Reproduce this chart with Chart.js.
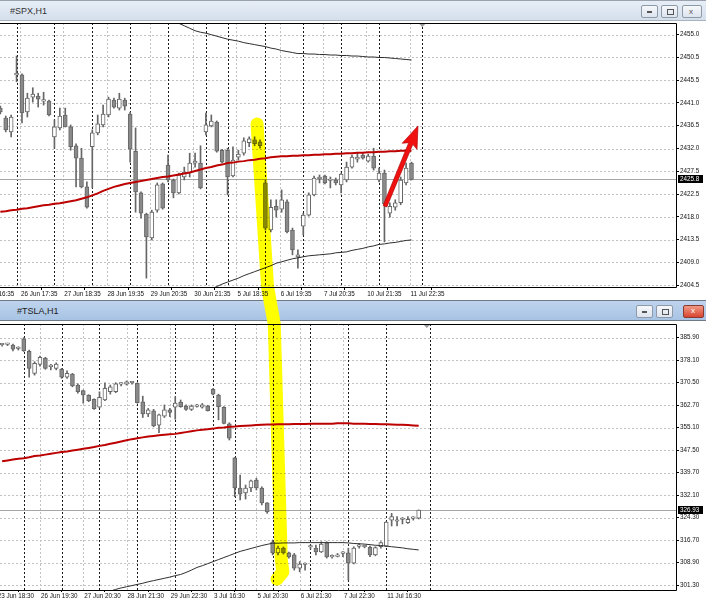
<!DOCTYPE html>
<html>
<head>
<meta charset="utf-8">
<title>#SPX,H1 / #TSLA,H1</title>
<script src="https://cdn.jsdelivr.net/npm/chart.js@4.4.1/dist/chart.umd.min.js"></script>
<style>
  html, body { margin: 0; padding: 0; }
  body { width: 706px; height: 600px; position: relative; overflow: hidden; background: #eef0f3; font-family: "Liberation Sans", Arial, sans-serif; }
  .win { position: absolute; left: 0; width: 706px; background: #fff; overflow: hidden; }
  #winSpx { top: 0; height: 300px; }
  #winTsla { top: 300px; height: 300px; }
  .bar { position: absolute; left: 0; top: 0; width: 706px; height: 21px; box-sizing: border-box; }
  #winSpx .bar { background: linear-gradient(#e7eef7, #d4dfec); border-top: 1px solid #9aa3ad; border-bottom: 1px solid #a9b3bf; }
  #winTsla .bar { background: linear-gradient(#bfd4ed, #a7c3e4); border-top: 1px solid #6f7a86; border-bottom: 1px solid #6f7a86; }
  .title { position: absolute; top: 5px; font-size: 9px; color: #222; }
  .btn { position: absolute; top: 4px; width: 17px; height: 13px; box-sizing: border-box; border: 1px solid #8e9aa8; border-radius: 2px; background: linear-gradient(#f6f8fb, #dde4ee); }
  .btn i { position: absolute; left: 5px; top: 5px; width: 5px; height: 2px; background: #555; }
  .btn.max i { top: 3px; height: 4px; width: 5px; background: none; border: 1px solid #555; }
  .btn.close { width: 21px; background: linear-gradient(#f09a86, #d9452f); border-color: #8a3a30; }
  .btn.close i { left: 7px; top: 2px; width: 6px; height: 6px; background: none; color: #fff; font-size: 8px; line-height: 6px; font-style: normal; }
  canvas { position: absolute; left: 0; }
  #cSpx { top: 21px; }
  #cTsla { top: 22px; }
  .overlay { position: absolute; left: 0; top: 0; pointer-events: none; }
  #overlayMul { mix-blend-mode: multiply; }
</style>
</head>
<body>
<div class="win" id="winSpx">
  <div class="bar">
    <span class="title" style="left:10px;color:#333">#SPX,H1</span>
    <span class="btn" style="left:641px"><i></i></span>
    <span class="btn max" style="left:661px"><i></i></span>
    <span class="btn" style="left:682px;width:20px"><i style="background:none;color:#555;font-size:8px;font-style:normal;left:6px;top:1px">x</i></span>
  </div>
  <canvas id="cSpx" width="706" height="279"></canvas>
</div>
<div class="win" id="winTsla">
  <div class="bar">
    <span class="title" style="left:17px">#TSLA,H1</span>
    <span class="btn" style="left:636px"><i></i></span>
    <span class="btn max" style="left:656px"><i></i></span>
    <span class="btn close" style="left:683px"><i>x</i></span>
  </div>
  <canvas id="cTsla" width="706" height="278"></canvas>
</div>
<canvas class="overlay" id="overlayMul" width="706" height="600"></canvas>
<canvas class="overlay" id="overlayBar" width="706" height="600"></canvas>

<script>
// --- SPX data (H1 candles: open, high, low, close) ---
const spxYLabels = ['2455.0', '2450.5', '2445.5', '2441.0', '2436.5', '2432.0', '2427.5', '2422.5', '2418.0', '2413.5', '2409.0', '2404.5'];
const spxTimeLabels = ['23 Jun 16:35', '26 Jun 17:35', '27 Jun 18:35', '28 Jun 19:35', '29 Jun 20:35', '30 Jun 21:35', '5 Jul 18:35', '6 Jul 19:35', '7 Jul 20:35', '10 Jul 21:35', '11 Jul 22:35'];
const spxDayStarts = [3, 10, 17, 24, 31, 38, 42, 49, 56, 63, 70, 78];
const spxLast = 2425.8;
const spxOHLC = [
    [2440.2, 2440.6, 2439.0, 2439.4], [2438.2, 2438.6, 2435.4, 2435.8], [2435.4, 2438.8, 2434.4, 2438.4], [2446.9, 2450.7, 2445.5, 2447.1],
    [2446.9, 2447.1, 2437.2, 2439.2], [2439.4, 2443.2, 2438.4, 2442.2], [2442.4, 2444.3, 2441.4, 2443.0], [2442.6, 2443.2, 2440.4, 2442.0],
    [2441.6, 2443.4, 2440.8, 2441.8], [2441.6, 2441.8, 2438.6, 2438.8], [2434.4, 2437.8, 2432.1, 2436.4], [2436.2, 2440.2, 2435.8, 2438.6],
    [2438.8, 2440.2, 2436.4, 2436.4], [2436.4, 2436.8, 2431.7, 2432.4], [2432.6, 2433.0, 2424.3, 2430.1], [2430.1, 2432.1, 2424.1, 2424.3],
    [2424.3, 2425.3, 2420.0, 2420.2], [2432.4, 2435.8, 2424.1, 2435.2], [2435.2, 2438.8, 2434.8, 2437.0], [2436.8, 2440.8, 2436.4, 2439.0],
    [2438.8, 2442.4, 2438.4, 2442.0], [2441.8, 2442.2, 2440.2, 2440.4], [2440.2, 2443.2, 2439.8, 2442.0], [2441.8, 2442.2, 2439.8, 2440.6],
    [2439.0, 2439.4, 2429.3, 2431.9], [2431.5, 2436.2, 2419.2, 2423.3], [2423.1, 2423.3, 2418.0, 2419.0], [2418.8, 2419.0, 2405.9, 2414.2],
    [2414.0, 2419.6, 2413.6, 2419.2], [2419.6, 2425.1, 2419.2, 2424.7], [2424.9, 2425.1, 2419.8, 2420.0], [2428.7, 2430.7, 2425.3, 2425.7],
    [2425.7, 2425.9, 2422.1, 2423.1], [2423.1, 2427.1, 2422.9, 2426.7], [2426.3, 2428.3, 2425.7, 2427.3], [2427.1, 2431.1, 2426.3, 2429.1],
    [2429.1, 2431.1, 2428.3, 2429.5], [2429.1, 2432.6, 2423.9, 2424.1], [2435.4, 2439.2, 2434.8, 2436.8], [2436.6, 2438.8, 2436.4, 2437.6],
    [2437.4, 2437.6, 2431.3, 2431.5], [2431.7, 2431.9, 2429.1, 2429.3], [2431.7, 2432.1, 2422.7, 2426.3], [2426.5, 2432.4, 2426.3, 2429.7],
    [2430.3, 2431.7, 2429.7, 2430.9], [2431.1, 2434.2, 2430.7, 2433.6], [2433.2, 2434.4, 2432.4, 2434.0], [2433.8, 2434.4, 2432.6, 2433.0],
    [2433.4, 2433.8, 2432.1, 2432.6], [2425.1, 2425.7, 2415.6, 2416.0], [2415.6, 2421.7, 2415.2, 2420.2], [2420.4, 2421.7, 2418.2, 2419.6],
    [2419.8, 2423.7, 2419.2, 2421.7], [2421.3, 2421.7, 2415.0, 2415.2], [2415.6, 2416.0, 2410.6, 2411.6], [2410.2, 2411.6, 2407.9, 2410.6],
    [2416.4, 2419.0, 2414.6, 2418.6], [2418.6, 2423.1, 2418.4, 2422.7], [2422.7, 2426.5, 2422.5, 2426.1], [2425.9, 2426.7, 2425.1, 2426.3],
    [2426.5, 2426.7, 2424.9, 2425.1], [2425.6, 2426.3, 2424.1, 2425.8], [2425.7, 2426.1, 2424.7, 2425.1], [2424.7, 2427.1, 2423.1, 2426.9],
    [2425.7, 2429.3, 2425.3, 2428.3], [2428.3, 2430.7, 2428.1, 2430.3], [2429.9, 2431.1, 2429.3, 2430.3], [2430.7, 2431.1, 2429.9, 2430.1],
    [2429.5, 2430.9, 2429.3, 2430.5], [2430.5, 2432.1, 2427.7, 2428.1], [2425.7, 2428.1, 2425.3, 2427.1], [2427.1, 2427.7, 2413.2, 2420.9],
    [2419.0, 2421.1, 2418.2, 2420.4], [2420.2, 2421.7, 2419.6, 2421.1], [2421.1, 2426.3, 2420.7, 2425.7], [2425.1, 2429.1, 2424.7, 2428.1],
    [2429.1, 2429.3, 2425.7, 2425.8]
];
const spxMA = [
    2419.3, 2419.4, 2419.6, 2419.7, 2419.9, 2420.0, 2420.2, 2420.4, 2420.6, 2420.7, 2420.9, 2421.0, 2421.2, 2421.4, 2421.6, 2421.9,
    2422.2, 2422.6, 2423.0, 2423.5, 2423.9, 2424.3, 2424.6, 2424.9, 2425.1, 2425.3, 2425.5, 2425.7, 2425.9, 2426.1, 2426.3, 2426.4,
    2426.6, 2426.8, 2427.0, 2427.2, 2427.5, 2427.8, 2428.1, 2428.3, 2428.6, 2428.8, 2429.1, 2429.2, 2429.4, 2429.5, 2429.7, 2429.8,
    2430.0, 2430.1, 2430.3, 2430.4, 2430.5, 2430.5, 2430.6, 2430.6, 2430.7, 2430.7, 2430.8, 2430.8, 2430.9, 2430.9, 2431.0, 2431.0,
    2431.1, 2431.1, 2431.2, 2431.2, 2431.3, 2431.3, 2431.4, 2431.4, 2431.5, 2431.5, 2431.6, 2431.6, 2431.6
];
const spxUpperFrom = 30;
const spxUpper = [
    2458.8, 2458.3, 2457.8, 2457.3, 2456.8, 2456.3, 2455.8, 2455.5, 2455.3, 2455.0, 2454.7, 2454.4, 2454.1, 2453.9, 2453.7, 2453.4,
    2453.2, 2453.0, 2452.8, 2452.6, 2452.3, 2452.1, 2451.8, 2451.6, 2451.4, 2451.2, 2451.2, 2451.1, 2451.1, 2451.0, 2451.0, 2450.9,
    2450.9, 2450.8, 2450.8, 2450.7, 2450.7, 2450.6, 2450.5, 2450.5, 2450.4, 2450.4, 2450.3, 2450.2, 2450.1, 2450.0, 2449.9
];
const spxLowerFrom = 38;
const spxLower = [
    2403.3, 2403.7, 2404.2, 2404.7, 2405.1, 2405.5, 2405.9, 2406.4, 2406.8, 2407.2, 2407.6, 2408.0, 2408.4, 2408.9, 2409.2, 2409.5,
    2409.8, 2410.0, 2410.2, 2410.4, 2410.5, 2410.6, 2410.7, 2410.8, 2411.0, 2411.1, 2411.2, 2411.5, 2411.7, 2411.9, 2412.2, 2412.4,
    2412.7, 2412.8, 2413.0, 2413.1, 2413.3, 2413.5, 2413.6
];

// --- TSLA data ---
const tslaYLabels = ['385.90', '378.10', '370.50', '362.70', '355.10', '347.50', '339.70', '332.10', '324.30', '316.70', '308.90', '301.30'];
const tslaTimeLabels = ['23 Jun 18:30', '26 Jun 19:30', '27 Jun 20:30', '28 Jun 21:30', '29 Jun 22:30', '3 Jul 16:30', '5 Jul 20:30', '6 Jul 21:30', '7 Jul 22:30', '11 Jul 16:30'];
const tslaDayStarts = [4, 11, 18, 25, 32, 39, 43, 50, 57, 64, 71, 79];
const tslaLast = 326.93;
const tslaOHLC = [
    [383.5, 383.9, 383.0, 383.6], [383.6, 384.0, 383.2, 383.7], [383.4, 383.7, 381.4, 382.0], [382.2, 382.8, 381.7, 382.3],
    [385.5, 385.9, 381.2, 381.4], [381.2, 381.7, 372.4, 375.4], [373.7, 377.7, 373.1, 377.1], [376.8, 379.6, 376.2, 379.2],
    [378.9, 379.2, 375.1, 375.4], [376.0, 376.8, 374.9, 376.2], [375.4, 377.3, 374.9, 376.9], [375.1, 375.4, 372.0, 372.4],
    [372.4, 374.6, 372.0, 373.7], [373.5, 373.7, 369.1, 369.4], [369.7, 370.1, 366.9, 367.4], [367.8, 368.0, 363.5, 366.3],
    [366.2, 366.4, 364.0, 364.4], [364.8, 365.0, 361.4, 361.6], [362.1, 367.4, 361.8, 365.5], [364.6, 370.5, 364.4, 368.6],
    [367.4, 369.7, 366.6, 369.1], [367.4, 370.5, 367.1, 370.1], [370.0, 370.5, 369.4, 370.2], [370.0, 371.1, 369.7, 370.8],
    [370.5, 371.0, 370.0, 370.6], [370.3, 370.5, 363.5, 363.7], [364.0, 365.9, 358.6, 359.8], [359.8, 361.7, 358.9, 361.2],
    [360.9, 361.4, 355.4, 355.7], [356.0, 359.8, 353.4, 359.5], [359.1, 362.9, 358.6, 361.2], [361.2, 361.7, 358.9, 360.3],
    [362.1, 365.7, 358.0, 363.5], [363.9, 364.6, 362.1, 362.3], [362.5, 362.9, 361.0, 361.4], [361.4, 362.9, 361.0, 362.5],
    [362.4, 363.1, 362.1, 362.6], [362.1, 363.4, 361.8, 362.9], [362.5, 362.8, 360.8, 360.9], [368.2, 368.6, 366.3, 366.6],
    [366.3, 366.6, 357.8, 362.3], [362.1, 362.3, 356.4, 356.6], [356.4, 356.8, 350.9, 351.5], [344.8, 344.9, 331.5, 334.5],
    [334.5, 338.9, 330.4, 332.4], [332.8, 335.5, 330.7, 334.5], [334.5, 337.2, 333.2, 336.9], [337.2, 337.8, 333.8, 334.5],
    [334.5, 334.9, 328.7, 329.4], [329.4, 329.5, 325.8, 326.3], [316.0, 316.7, 311.6, 312.3], [312.3, 314.6, 311.6, 313.9],
    [313.9, 314.3, 311.9, 312.3], [312.3, 312.6, 310.5, 310.9], [311.6, 312.1, 306.4, 307.1], [307.1, 309.3, 305.8, 308.5],
    [308.3, 308.9, 306.4, 308.5], [314.3, 315.0, 313.6, 314.4], [313.9, 315.0, 311.6, 312.6], [312.6, 316.1, 312.4, 315.3],
    [315.7, 316.1, 310.5, 310.9], [310.9, 311.6, 310.5, 311.0], [311.1, 312.1, 310.9, 311.3], [312.1, 312.7, 311.0, 312.2],
    [312.3, 313.9, 303.0, 308.8], [308.8, 314.4, 308.5, 313.9], [314.5, 315.5, 313.9, 314.7], [314.4, 315.0, 314.0, 314.5],
    [314.2, 314.6, 311.0, 311.6], [311.6, 314.4, 311.3, 314.1], [314.4, 316.1, 313.9, 315.8], [314.6, 323.0, 314.4, 322.8],
    [323.5, 325.8, 321.5, 324.7], [323.1, 324.7, 321.5, 323.3], [323.7, 324.4, 322.2, 323.9], [322.6, 324.7, 322.4, 323.8],
    [324.1, 324.7, 323.5, 324.2], [324.2, 327.0, 323.9, 326.93]
];
const tslaMA = [
    343.6, 343.9, 344.2, 344.5, 344.7, 345.0, 345.4, 345.6, 345.9, 346.2, 346.5, 346.8, 347.0, 347.3, 347.6, 347.9,
    348.2, 348.5, 348.9, 349.2, 349.6, 350.0, 350.4, 350.8, 351.2, 351.5, 351.8, 352.1, 352.3, 352.5, 352.7, 352.9,
    353.0, 353.3, 353.6, 353.9, 354.2, 354.4, 354.6, 354.8, 355.1, 355.2, 355.4, 355.5, 355.7, 355.8, 355.9, 356.0,
    356.1, 356.2, 356.2, 356.3, 356.3, 356.3, 356.4, 356.4, 356.4, 356.5, 356.5, 356.5, 356.5, 356.5, 356.6, 356.6,
    356.6, 356.5, 356.5, 356.5, 356.4, 356.4, 356.3, 356.3, 356.2, 356.1, 356.1, 356.0, 355.9, 355.8
];
const tslaLowerFrom = 20;
const tslaLower = [
    299.2, 299.8, 300.3, 300.7, 301.1, 301.5, 301.9, 302.4, 302.8, 303.2, 303.6, 304.0, 304.5, 304.9, 305.6, 306.4,
    307.3, 307.9, 308.6, 309.3, 310.0, 310.7, 311.4, 312.1, 312.8, 313.3, 313.8, 314.3, 314.8, 315.2, 315.6, 315.6,
    315.7, 315.7, 315.7, 315.8, 315.8, 315.8, 315.8, 315.8, 315.8, 315.8, 315.8, 315.8, 315.7, 315.5, 315.4, 315.3,
    315.1, 314.9, 314.8, 314.6, 314.4, 314.2, 314.0, 313.7, 313.5, 313.3
];

// --- annotations (bar index, price) ---
const spxArrow = { from: [71.1, 2420.4], to: [77.2, 2436.6] };
const highlightSpx = [[47.45, 2437.0], [49.4, 2404.1]];
const highlightTsla = [[50.3, 390.6], [51.6, 309.9], [51.9, 305.8], [50.8, 303.3]];

const AXIS_FONT = { family: 'Liberation Sans, Arial, sans-serif', size: 6.3 };
const BULL = '#ffffff', BEAR = '#8a8a8a', EDGE = '#666666';

function hline(ctx, x1, x2, y) { ctx.beginPath(); ctx.moveTo(x1, y); ctx.lineTo(x2, y); ctx.stroke(); }
function vline(ctx, x, y1, y2) { ctx.beginPath(); ctx.moveTo(x, y1); ctx.lineTo(x, y2); ctx.stroke(); }

// grid, day separators, last price line, frame, price box, arrow
const terminalPlugin = {
    id: 'terminal',
    beforeDatasetsDraw(chart, args, opts) {
        const { ctx, chartArea: a, scales: { x, y } } = chart;
        ctx.save();
        ctx.lineWidth = 1;
        ctx.strokeStyle = '#c2c2c2';
        ctx.setLineDash([2, 2]);
        y.ticks.forEach(t => hline(ctx, a.left, a.right, Math.round(y.getPixelForValue(t.value)) + 0.5));
        x.ticks.forEach(t => {
            const px = Math.round(x.getPixelForValue(t.value)) + 0.5;
            if (px > a.left && px < a.right) vline(ctx, px, a.top, a.bottom);
        });
        ctx.strokeStyle = '#1a1a1a';
        opts.dayStarts.forEach(i => vline(ctx, Math.round(x.getPixelForValue(i)) + 0.5, a.top, a.bottom));
        ctx.setLineDash([]);
        ctx.strokeStyle = '#a6a6a6';
        hline(ctx, a.left, a.right, Math.round(y.getPixelForValue(opts.last)) + 0.5);
        ctx.restore();
    },
    afterDatasetsDraw(chart, args, opts) {
        if (!opts.arrow) return;
        const { ctx, scales: { x, y } } = chart;
        const x1 = x.getPixelForValue(opts.arrow.from[0]), y1 = y.getPixelForValue(opts.arrow.from[1]);
        const x2 = x.getPixelForValue(opts.arrow.to[0]), y2 = y.getPixelForValue(opts.arrow.to[1]);
        const len = Math.hypot(x2 - x1, y2 - y1);
        ctx.save();
        ctx.translate(x1, y1);
        ctx.rotate(Math.atan2(y2 - y1, x2 - x1));
        ctx.fillStyle = '#f01010';
        ctx.strokeStyle = '#b00000';
        ctx.lineWidth = 0.6;
        ctx.beginPath();
        ctx.moveTo(0, -2);
        ctx.lineTo(len - 19, -2.2);
        ctx.lineTo(len - 22, -8);
        ctx.lineTo(len, 0);
        ctx.lineTo(len - 22, 8);
        ctx.lineTo(len - 19, 2.2);
        ctx.lineTo(0, 2);
        ctx.closePath();
        ctx.fill();
        ctx.stroke();
        ctx.restore();
    },
    afterDraw(chart, args, opts) {
        const { ctx, chartArea: a, scales: { x, y } } = chart;
        ctx.save();
        ctx.strokeStyle = '#000';
        ctx.lineWidth = 1;
        ctx.beginPath();
        ctx.moveTo(a.left, a.top + 0.5);
        ctx.lineTo(a.right + 0.5, a.top + 0.5);
        ctx.lineTo(a.right + 0.5, a.bottom + 0.5);
        ctx.lineTo(a.left, a.bottom + 0.5);
        ctx.stroke();
        // chart shift marker
        const sx = x.getPixelForValue(opts.shift);
        ctx.fillStyle = '#9a9a9a';
        ctx.beginPath();
        ctx.moveTo(sx - 3, a.top + 1);
        ctx.lineTo(sx + 3, a.top + 1);
        ctx.lineTo(sx, a.top + 4);
        ctx.closePath();
        ctx.fill();
        // last price tag
        const py = Math.round(y.getPixelForValue(opts.last));
        ctx.fillStyle = '#000';
        ctx.fillRect(a.right + 2, py - 4, 25, 8);
        ctx.fillStyle = '#fff';
        ctx.font = '6.3px "Liberation Sans", Arial, sans-serif';
        ctx.textBaseline = 'middle';
        ctx.fillText(opts.lastLabel, a.right + 4, py + 0.5);
        ctx.restore();
    }
};

function makeChart(canvas, cfg) {
    const candles = cfg.ohlc;
    const bull = candles.map(c => c[3] >= c[0]);
    const yFirst = parseFloat(cfg.yLabels[0]);
    const yStep = (yFirst - parseFloat(cfg.yLabels[cfg.yLabels.length - 1])) / (cfg.yLabels.length - 1);
    const lineSet = (values, from, color, width) => ({
        type: 'line',
        data: values.map((v, k) => ({ x: from + k, y: v })),
        borderColor: color,
        borderWidth: width,
        pointRadius: 0,
        tension: 0,
        clip: 0,
        order: 0
    });
    return new Chart(canvas, {
        type: 'bar',
        data: {
            datasets: [
                lineSet(cfg.ma, 0, '#bc0000', 2),
                ...cfg.bands.map(b => lineSet(b.values, b.from, '#2e2e2e', 1)),
                {
                    data: candles.map((c, i) => ({ x: i, y: [c[0], c[3]] })),
                    backgroundColor: bull.map(b => b ? BULL : BEAR),
                    borderColor: EDGE,
                    borderWidth: 1,
                    borderSkipped: false,
                    barThickness: 4,
                    minBarLength: 1.5,
                    grouped: false,
                    order: 1
                },
                {
                    data: candles.map((c, i) => ({ x: i, y: [c[2], c[1]] })),
                    backgroundColor: EDGE,
                    barThickness: 1,
                    grouped: false,
                    order: 2
                }
            ]
        },
        options: {
            responsive: false,
            animation: false,
            devicePixelRatio: 1,
            layout: { padding: { top: 2, left: 0, right: 0, bottom: 0 } },
            plugins: {
                legend: { display: false },
                tooltip: { enabled: false },
                terminal: cfg.marks
            },
            scales: {
                x: {
                    type: 'linear',
                    min: cfg.xMin,
                    max: cfg.xMin + 124.95,
                    offset: false,
                    afterBuildTicks: s => { s.ticks = cfg.timeLabels.map((l, k) => ({ value: cfg.gridFrom + k * 8 })); },
                    afterFit: s => { s.height = cfg.xAxisHeight; s.paddingLeft = 0; s.paddingRight = 0; },
                    ticks: {
                        callback: (v, i) => cfg.timeLabels[i],
                        autoSkip: false, maxRotation: 0, align: 'start', labelOffset: 1, padding: 0,
                        color: '#111', font: AXIS_FONT
                    },
                    grid: { drawOnChartArea: false, drawTicks: true, tickLength: cfg.tickLength, color: '#000' },
                    border: { display: false }
                },
                y: {
                    position: 'right',
                    min: cfg.yMin,
                    max: cfg.yMax,
                    afterBuildTicks: s => { s.ticks = cfg.yLabels.map((l, k) => ({ value: yFirst - k * yStep })); },
                    afterFit: s => { s.width = 30; s.paddingTop = 0; s.paddingBottom = 0; },
                    ticks: {
                        callback: (v, i) => cfg.yLabels[i],
                        autoSkip: false, padding: 1, color: '#111', font: AXIS_FONT
                    },
                    grid: { drawOnChartArea: false, drawTicks: true, tickLength: 3, color: '#000' },
                    border: { display: false }
                }
            }
        },
        plugins: [terminalPlugin]
    });
}

const spxChart = makeChart(document.getElementById('cSpx'), {
    ohlc: spxOHLC, ma: spxMA,
    bands: [{ values: spxUpper, from: spxUpperFrom }, { values: spxLower, from: spxLowerFrom }],
    yLabels: spxYLabels, yMin: 2404.11, yMax: 2457.36,
    timeLabels: spxTimeLabels, gridFrom: -4.36, xMin: -0.06,
    xAxisHeight: 13, tickLength: 3,
    marks: { dayStarts: spxDayStarts, last: spxLast, lastLabel: '2425.8', shift: 78, arrow: spxArrow }
});

const tslaChart = makeChart(document.getElementById('cTsla'), {
    ohlc: tslaOHLC, ma: tslaMA,
    bands: [{ values: tslaLower, from: tslaLowerFrom }],
    yLabels: tslaYLabels, yMin: 299.59, yMax: 390.59,
    timeLabels: tslaTimeLabels, gridFrom: -1, xMin: -0.39,
    xAxisHeight: 10, tickLength: 2,
    marks: { dayStarts: tslaDayStarts, last: tslaLast, lastLabel: '326.93', shift: 78.5 }
});

// yellow marker stroke across both windows:
// multiplied over the charts, plain over the TSLA title bar
function strokeHighlighter(id, clipTop, clipBottom) {
    const ctx = document.getElementById(id).getContext('2d');
    const toPage = (chart, top) => p => [chart.scales.x.getPixelForValue(p[0]), top + chart.scales.y.getPixelForValue(p[1])];
    const pts = highlightSpx.map(toPage(spxChart, 21)).concat(highlightTsla.map(toPage(tslaChart, 322)));
    ctx.save();
    ctx.beginPath();
    clipTop.forEach(([t, b]) => ctx.rect(0, t, 706, b - t));
    ctx.clip();
    ctx.strokeStyle = '#ffff00';
    ctx.lineWidth = 13;
    ctx.lineCap = 'round';
    ctx.lineJoin = 'round';
    ctx.beginPath();
    pts.forEach((p, k) => k ? ctx.lineTo(p[0], p[1]) : ctx.moveTo(p[0], p[1]));
    ctx.stroke();
    ctx.restore();
}
strokeHighlighter('overlayMul', [[0, 299], [323, 600]]);
strokeHighlighter('overlayBar', [[299, 323]]);
</script>
</body>
</html>
